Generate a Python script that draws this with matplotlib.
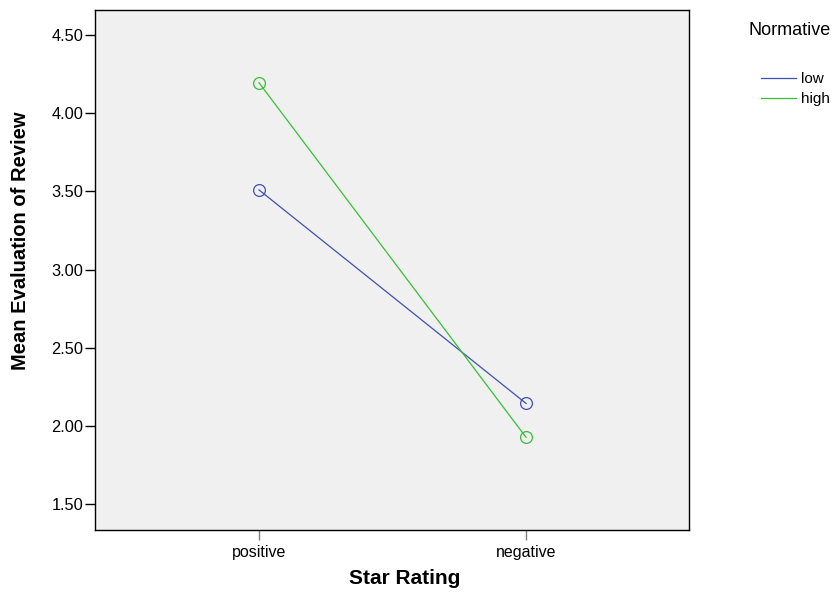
import matplotlib
matplotlib.use("Agg")
import matplotlib.pyplot as plt

plt.rcParams["font.family"] = ["Liberation Sans", "DejaVu Sans"]

# Values
star_rating = ["positive", "negative"]
normative = ["low", "high"]
mean_low = [3.51, 2.145]
mean_high = [4.195, 1.928]
colors = {"low": "#3f51b0", "high": "#35c035"}
y_ticks = [1.50, 2.00, 2.50, 3.00, 3.50, 4.00, 4.50]

fig = plt.figure(figsize=(8.36, 5.93), dpi=100)
ax = fig.add_axes([95 / 836, 63 / 593, 594 / 836, 520 / 593])
ax.set_facecolor("#f0f0f0")

x = range(len(star_rating))
for name, vals in zip(normative, [mean_low, mean_high]):
    ax.plot(x, vals, color=colors[name], lw=0.9, marker="o", markersize=8.5,
            markerfacecolor="none", markeredgewidth=0.9, label=name)

ax.set_xlim(-0.614, 1.61)
ax.set_ylim(1.336, 4.66)
ax.set_xticks(list(x))
ax.set_xticklabels(star_rating, fontsize=11.5)
ax.set_yticks(y_ticks)
ax.set_yticklabels([f"{v:.2f}" for v in y_ticks], fontsize=11.8)
ax.tick_params(axis="y", direction="out", length=7, width=1, color="black", pad=1.5)
ax.tick_params(axis="x", direction="out", length=7, width=1, color="#808080", pad=4)
for sp in ax.spines.values():
    sp.set_linewidth(1.0)

fig.text(405 / 836, 1 - 579 / 593, "Star Rating", ha="center", va="center",
         fontsize=15, fontweight="bold")
fig.text(21 / 836, 1 - 241 / 593, "Mean Evaluation of Review", ha="center",
         va="center", rotation=90, fontsize=14.5, fontweight="bold")

leg = fig.legend(loc="upper right", bbox_to_anchor=(838 / 836, 1 - 14 / 593),
                 title="Normative", frameon=False, fontsize=11,
                 title_fontsize=13, handlelength=2.3, handletextpad=0.33,
                 labelspacing=0.4, borderpad=0, markerscale=0)
leg._legend_box.sep = 24
leg._legend_box.align = "right"
for h in leg.legend_handles:
    h.set_marker("")

fig.savefig("out.png", dpi=100)
